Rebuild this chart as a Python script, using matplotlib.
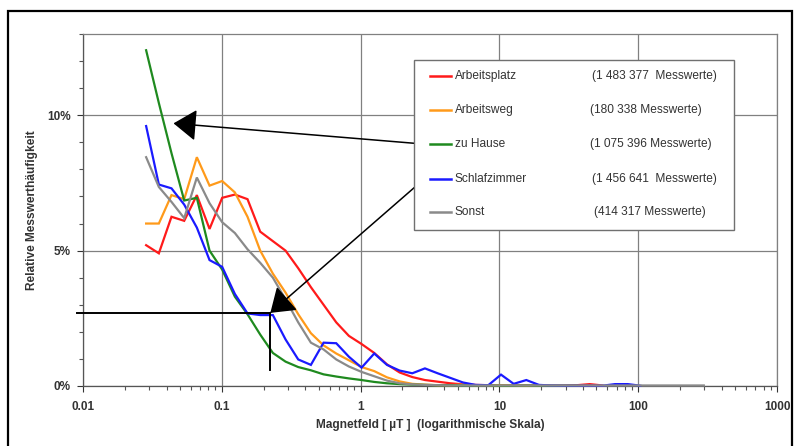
import matplotlib
matplotlib.use("Agg")
import matplotlib.pyplot as plt
from matplotlib.lines import Line2D
from matplotlib.patches import Rectangle
from matplotlib.ticker import LogLocator, FixedLocator, NullFormatter

plt.rcParams['font.family'] = ['Liberation Sans', 'DejaVu Sans']

# ---- data ----
field_uT = [0.0285, 0.0352, 0.0434, 0.0536, 0.0661, 0.0816, 0.1006, 0.1242, 0.1532, 0.1891,
            0.2333, 0.2879, 0.3553, 0.4384, 0.541, 0.6676, 0.8238, 1.0165, 1.254, 1.548,
            1.91, 2.357, 2.908, 3.589, 4.429, 5.465, 6.744, 8.322, 10.27, 12.67,
            15.63, 19.29, 23.8, 29.37, 36.25, 44.73, 55.2, 68.1, 84.0, 103.7,
            128.0, 158.0, 195.0, 240.0, 297.0]

arbeitsplatz = [5.2, 4.9, 6.25, 6.1, 7.05, 5.8, 6.95, 7.07, 6.9, 5.7,
                5.35, 5.0, 4.35, 3.65, 3.0, 2.35, 1.85, 1.55, 1.22, 0.8,
                0.5, 0.33, 0.22, 0.16, 0.1, 0.06, 0.04, 0.03, 0.02, 0.02,
                0.02, 0.02, 0.01, 0.02, 0.03, 0.07, 0.02]
arbeitsweg = [6.0, 6.0, 7.05, 6.9, 8.45, 7.4, 7.57, 7.15, 6.25, 5.0,
              4.15, 3.45, 2.65, 1.95, 1.5, 1.2, 0.95, 0.7, 0.55, 0.32,
              0.17, 0.08, 0.05, 0.03, 0.03, 0.05, 0.03, 0.02, 0.02, 0.02,
              0.01, 0.02, 0.01, 0.01]
zu_hause = [12.4, 10.45, 8.6, 6.85, 6.95, 5.0, 4.3, 3.3, 2.65, 1.9,
            1.22, 0.9, 0.7, 0.58, 0.43, 0.35, 0.28, 0.22, 0.15, 0.1,
            0.07, 0.05, 0.04, 0.03, 0.03, 0.02, 0.02, 0.02, 0.01, 0.01,
            0.02, 0.01, 0.01, 0.01, 0.01]
schlafzimmer = [9.6, 7.44, 7.3, 6.7, 5.85, 4.65, 4.4, 3.4, 2.68, 2.62,
                2.62, 1.72, 0.98, 0.78, 1.6, 1.58, 1.08, 0.68, 1.2, 0.78,
                0.57, 0.47, 0.65, 0.47, 0.3, 0.13, 0.04, 0.03, 0.42, 0.08,
                0.22, 0.04, 0.02, 0.01, 0.01, 0.01, 0.01, 0.07, 0.07, 0.01]
sonst = [8.45, 7.35, 6.8, 6.2, 7.7, 6.75, 6.05, 5.65, 5.05, 4.55,
         4.0, 3.2, 2.35, 1.6, 1.35, 0.98, 0.72, 0.52, 0.36, 0.2,
         0.1, 0.06, 0.04, 0.03, 0.02, 0.02, 0.02, 0.02, 0.02, 0.02,
         0.02, 0.02, 0.02, 0.02, 0.02, 0.02, 0.02, 0.02, 0.02, 0.02,
         0.02, 0.02, 0.02, 0.02, 0.02]

series_names = ["Arbeitsplatz", "Arbeitsweg", "zu Hause", "Schlafzimmer", "Sonst"]
series_counts = ["(1 483 377  Messwerte)", "(180 338 Messwerte)", "(1 075 396 Messwerte)",
                 "(1 456 641  Messwerte)", "(414 317 Messwerte)"]
series_values = [arbeitsplatz, arbeitsweg, zu_hause, schlafzimmer, sonst]
series_colors = ["#ff1a1a", "#ff9a1a", "#1f8a1f", "#1a1aff", "#8a8a8a"]

x_ticks = [0.01, 0.1, 1, 10, 100, 1000]
x_tick_labels = ["0.01", "0.1", "1", "10", "100", "1000"]
y_ticks = [0, 5, 10]
y_tick_labels = ["0%", "5%", "10%"]

# annotation points (data coords)
hausa_tip = (0.0449, 9.70)
schlaf_tip = (0.2237, 2.70)

W, H = 794, 446
fig = plt.figure(figsize=(W / 100, H / 100), dpi=100)
fig.patch.set_facecolor("white")

def fx(px):
    return px / W

def fy(py):
    return 1 - py / H

left, right, top, bottom = 83, 777, 34, 386
ax = fig.add_axes([fx(left), fy(bottom), fx(right) - fx(left), fy(top) - fy(bottom)])

# outer frame
fig.add_artist(Rectangle((fx(8), fy(452)), fx(792) - fx(8), fy(11) - fy(452),
                         transform=fig.transFigure, fill=False, edgecolor="black", lw=1.6))

gridc = "#808080"
for name, vals, col in zip(series_names, series_values, series_colors):
    ax.plot(field_uT[:len(vals)], vals, color=col, lw=1.6, clip_on=False, zorder=3,
            solid_joinstyle="miter")

ax.set_xscale("log")
ax.set_xlim(0.01, 1000)
ax.set_ylim(0, 13)
ax.xaxis.set_major_locator(FixedLocator(x_ticks))
ax.set_xticklabels(x_tick_labels)
ax.xaxis.set_minor_locator(LogLocator(base=10, subs=range(2, 10), numticks=20))
ax.xaxis.set_minor_formatter(NullFormatter())
ax.yaxis.set_major_locator(FixedLocator(y_ticks))
ax.set_yticklabels(y_tick_labels)
ax.yaxis.set_minor_locator(FixedLocator([v for v in range(0, 14) if v not in y_ticks]))

ax.grid(True, which="major", color=gridc, lw=0.9)
ax.set_axisbelow(True)
for s in ax.spines.values():
    s.set_color(gridc)
    s.set_linewidth(0.9)
ax.spines["bottom"].set_color("#555555")
ax.spines["left"].set_color("#555555")
ax.tick_params(axis="both", which="both", direction="out", color="#555555", width=0.8)
ax.tick_params(axis="both", which="major", length=4, labelsize=8.5, colors="#333333")
ax.tick_params(axis="both", which="minor", length=3)
ax.tick_params(axis="x", which="major", pad=7)
ax.tick_params(axis="y", which="major", pad=5)
for lab in ax.get_xticklabels() + ax.get_yticklabels():
    lab.set_fontweight("bold")

ax.set_xlabel("Magnetfeld [ µT ]  (logarithmische Skala)", fontsize=8.6, fontweight="bold",
              color="#333333", labelpad=4)
ax.set_ylabel("Relative Messwerthäufigkeit", fontsize=8.6, fontweight="bold",
              color="#333333")
ax.yaxis.set_label_coords((38 - left) / (right - left), 0.5)

# legend drawn manually
fig.add_artist(Rectangle((fx(414), fy(230)), fx(734) - fx(414), fy(60) - fy(230),
                         transform=fig.transFigure, facecolor="white", edgecolor="#707070",
                         lw=1.0, zorder=5))
rows_y = [76, 110, 144, 179, 212]
count_x = [592, 590, 590, 592, 594]
for i, (name, cnt, col) in enumerate(zip(series_names, series_counts, series_colors)):
    yy = fy(rows_y[i])
    fig.add_artist(Line2D([fx(430), fx(451)], [yy, yy], transform=fig.transFigure,
                          color=col, lw=1.8, zorder=6))
    fig.text(fx(455), yy, name, fontsize=8.6, color="#333333", va="center", ha="left", zorder=6)
    fig.text(fx(count_x[i]), yy, cnt, fontsize=8.6, color="#333333", va="center", ha="left", zorder=6)

# arrows from legend to curves
tail1 = (fx(423), fy(144))
tail2 = (fx(423), fy(180))
ap = dict(arrowstyle="-|>,head_length=0.55,head_width=0.38", mutation_scale=26,
          color="black", lw=1.1, shrinkA=0, shrinkB=0)
ax.annotate("", xy=hausa_tip, xycoords="data", xytext=tail1, textcoords="figure fraction",
            arrowprops=ap, zorder=7, annotation_clip=False)
ax.annotate("", xy=schlaf_tip, xycoords="data", xytext=tail2, textcoords="figure fraction",
            arrowprops=ap, zorder=7, annotation_clip=False)

# reading lines at the Schlafzimmer marker
ax.plot([0.00905, schlaf_tip[0]], [schlaf_tip[1], schlaf_tip[1]], color="black", lw=1.4,
        clip_on=False, zorder=7)
ax.plot([schlaf_tip[0], schlaf_tip[0]], [schlaf_tip[1], 0.6], color="black", lw=1.4,
        clip_on=False, zorder=7)

fig.savefig("out.png", dpi=100, facecolor="white")
